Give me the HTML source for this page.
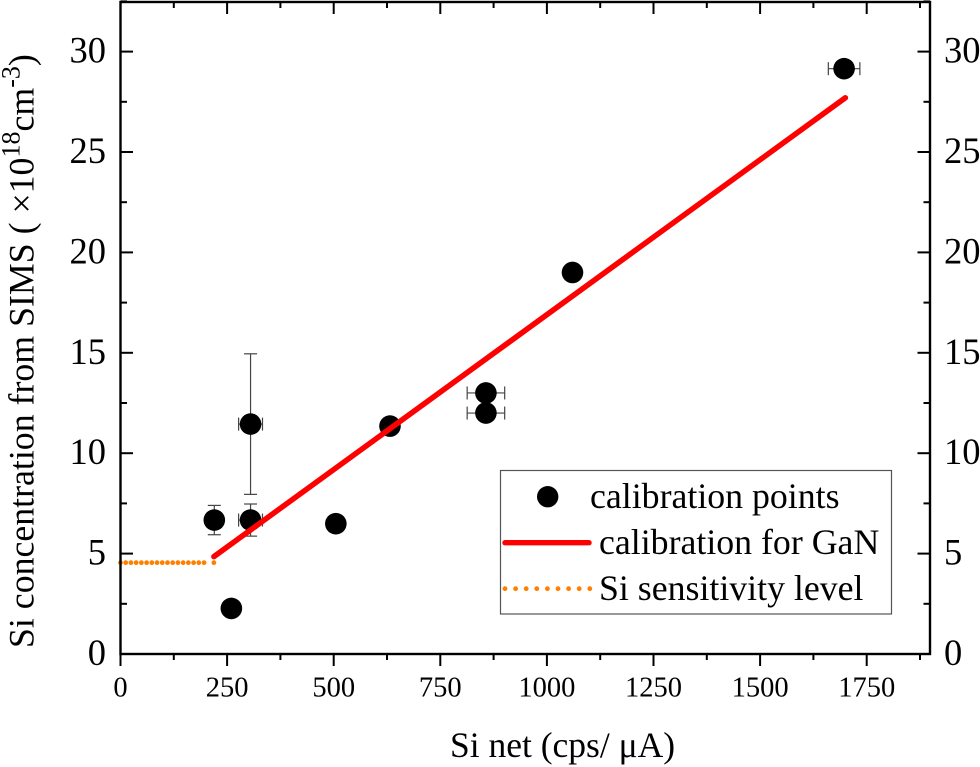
<!DOCTYPE html>
<html>
<head>
<meta charset="utf-8">
<style>
html,body{margin:0;padding:0;background:#fff;}
svg{display:block;}
text{font-family:"Liberation Serif",serif;fill:#000;}
</style>
</head>
<body>
<svg id="chart" xmlns="http://www.w3.org/2000/svg" width="980" height="767" viewBox="0 0 980 767">
<rect width="980" height="767" fill="#fff"/>
<g id="ticks"></g>
<g id="labels"></g>
<g id="errs"></g>
<g id="pts"></g>
<g id="fit"></g>
<g id="sens"></g>
<rect x="120.5" y="2" width="809.5" height="652" fill="none" stroke="#000" stroke-width="2.4"/>
<text x="450" y="757" font-size="35.5">Si net (cps/ μA)</text>
<text transform="translate(33.5,648) rotate(-90)" font-size="35.8">Si concentration from SIMS ( ×10<tspan font-size="26" dy="-14">18</tspan><tspan dy="14">cm</tspan><tspan font-size="26" dy="-14">-3</tspan><tspan dy="14">)</tspan></text>
<g>
<rect x="500.5" y="470.5" width="391" height="143.5" fill="#fff" stroke="#555" stroke-width="1.2"/>
<circle cx="547.7" cy="496.7" r="10.7" fill="#000"/>
<text x="590" y="508" font-size="35.8">calibration points</text>
<line x1="505" y1="542.7" x2="589" y2="542.7" stroke="#f00" stroke-width="5.4" stroke-linecap="round"/>
<text x="599" y="554" font-size="35.8">calibration for GaN</text>
<line x1="505" y1="588.7" x2="590" y2="588.7" stroke="#ff8000" stroke-width="4.8" stroke-linecap="round" stroke-dasharray="0 10.6"/>
<text x="599" y="600" font-size="35.8">Si sensitivity level</text>
</g>
</svg>
<script>
const xMajorTicks = [0, 250, 500, 750, 1000, 1250, 1500, 1750];
const xMinorTicks = [125, 375, 625, 875, 1125, 1375, 1625, 1875];
const yMajorTicks = [0, 5, 10, 15, 20, 25, 30];
const yMinorTicks = [2.5, 7.5, 12.5, 17.5, 22.5, 27.5, 32.5];
const pointX = [220, 305, 305, 260, 505, 632, 857, 857, 1060, 1697];
const pointY = [6.67, 11.45, 6.67, 2.27, 6.49, 11.35, 13.0, 12.0, 19.0, 29.15];
const pointXErr = [0, 28, 28, 0, 0, 10, 44, 44, 0, 37];
const pointYErr = [0.73, 3.5, 0.8, 0, 0, 0, 0, 0, 0, 0];
const fitX = [219, 1700];
const fitY = [4.85, 27.7];
const sensX = [0, 205];
const sensEndX = [219];
const sensY = [4.55];

const NS = 'http://www.w3.org/2000/svg';
const X = v => 120.5 + v * 0.4264;
const Y = v => 654 - v * 20.08;
function mk(parent, tag, attrs, txt) {
  const e = document.createElementNS(NS, tag);
  for (const k in attrs) e.setAttribute(k, attrs[k]);
  if (txt !== undefined) e.textContent = txt;
  document.getElementById(parent).appendChild(e);
  return e;
}
function tick(x1, y1, x2, y2) {
  const el = mk('ticks', 'line', {x1: x1, y1: y1, x2: x2, y2: y2, stroke: '#000', 'stroke-width': 2});
  
  
}
xMajorTicks.forEach(v => {
  tick(X(v), 654, X(v), 666);
  tick(X(v), 2, X(v), 14);
  const el = mk('labels', 'text', {x: X(v), y: 696.5, 'font-size': 28.5, 'text-anchor': 'middle'}, String(v));
  
  
});
xMinorTicks.forEach(v => {
  tick(X(v), 654, X(v), 660);
  tick(X(v), 2, X(v), 8);
});
yMajorTicks.forEach(v => {
  tick(120.5, Y(v), 133, Y(v));
  tick(930, Y(v), 917.5, Y(v));
  const left = mk('labels', 'text', {x: 106, y: Y(v) + 11, 'font-size': 36.5, 'text-anchor': 'end'}, String(v));
  
  
  const right = mk('labels', 'text', {x: 944, y: Y(v) + 11, 'font-size': 36.5}, String(v));
  
  
});
yMinorTicks.forEach(v => {
  tick(120.5, Y(v), 127, Y(v));
  tick(930, Y(v), 923.5, Y(v));
});
function errLine(x1, y1, x2, y2) {
  const el = mk('errs', 'line', {x1: x1, y1: y1, x2: x2, y2: y2, stroke: '#444', 'stroke-width': 1.2});
  
  
}
pointX.forEach((xv, i) => {
  const px = X(xv), py = Y(pointY[i]);
  if (pointYErr[i] > 0) {
    const t = Y(pointY[i] + pointYErr[i]), b = Y(pointY[i] - pointYErr[i]);
    errLine(px, t, px, b);
    errLine(px - 6.5, t, px + 6.5, t);
    errLine(px - 6.5, b, px + 6.5, b);
  }
  if (pointXErr[i] > 0) {
    const l = X(xv - pointXErr[i]), r = X(xv + pointXErr[i]);
    errLine(l, py, r, py);
    errLine(l, py - 6.5, l, py + 6.5);
    errLine(r, py - 6.5, r, py + 6.5);
  }
  const c = mk('pts', 'circle', {cx: px, cy: py, r: 10.8, fill: '#000'});
  
  
});
const fitLine = mk('fit', 'line', {x1: X(fitX[0]), y1: Y(fitY[0]), x2: X(fitX[1]), y2: Y(fitY[1]), stroke: '#f00', 'stroke-width': 5.5, 'stroke-linecap': 'round'});


const sensLine = mk('sens', 'line', {x1: X(sensX[0]), y1: Y(sensY[0]), x2: X(sensX[1]), y2: Y(sensY[0]), stroke: '#ff8000', 'stroke-width': 4.8, 'stroke-linecap': 'round', 'stroke-dasharray': '0 5.22'});


const sensEnd = mk('sens', 'circle', {cx: X(sensEndX[0]), cy: Y(sensY[0]), r: 2.4, fill: '#ff8000'});


</script>
</body>
</html>
